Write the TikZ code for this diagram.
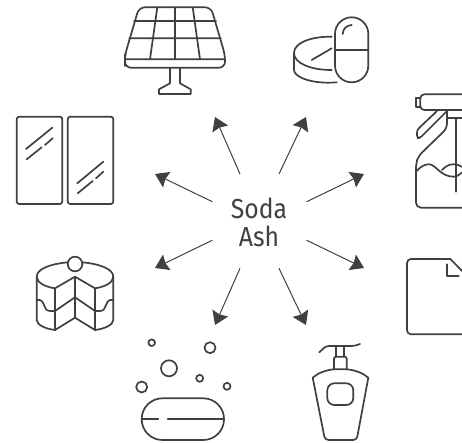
\documentclass[tikz,border=0pt]{standalone}
\usepackage{fontspec}
\setmainfont{Fira Sans}
\usetikzlibrary{arrows.meta}
\definecolor{ink}{HTML}{404040}
\tikzset{
 icon/.style={draw=ink,line width=1.7pt,line join=round,line cap=round},
 flow/.style={draw=ink,line width=1pt,-{Stealth[length=13pt,width=17pt,inset=1.5pt]}},
 title/.style={text=ink,font=\fontsize{27.5}{28.4}\selectfont,align=center,inner sep=0pt,xscale=.9}
}
\begin{document}
\begin{tikzpicture}[x=1pt,y=-1pt]
\useasboundingbox (0,0) rectangle (462,443);
\clip (0,0) rectangle (462,443);
% centre
\node[title] (soda) at (259,222.5) {Soda\\Ash};
\foreach \n/\sx/\sy/\tx/\ty in {a/240/174/215/117,b/279/174/306/117,c/306.7/201.7/364/174,d/306.7/240.3/364/268,e/212.3/201.7/155/174,f/212.3/240.3/155/268,g/240/268.3/215/325,h/279/268.3/306/325}{
  \coordinate (s\n) at (\sx,\sy);
  \coordinate (t\n) at (\tx,\ty);
  \draw[flow] (s\n) -- (t\n);
}
% solar panel
\draw[icon,rounded corners=6pt] (125,60) -- (125,55) -- (139,7.3) -- (211,7.3) -- (225,55) -- (225,67.7) -- (125,67.7) -- cycle;
\draw[icon] (125,59.3) -- (225,59.3) (134,21) -- (216,21) (129.3,38.3) -- (220.7,38.3)
 (157.3,7.3) -- (150,59.3) (175,7.3) -- (175,59.3) (192.7,7.3) -- (200,59.3);
\draw[icon] (170,67.7) -- (170,83.3) -- (159,89.3) -- (159,94) -- (190.7,94) -- (190.7,89.3) -- (180,83.3) -- (180,67.7);
% pills
\draw[icon] (335,50) -- (368.3,50);
\draw[icon,rounded corners=16.6pt] (335,17.3) rectangle (368.3,82.3);
\draw[icon] (342.7,34) .. controls (343,29) and (346,25.5) .. (351.7,25);
\draw[icon] (331.7,36.7) .. controls (310,36.5) and (294,43) .. (294,53) .. controls (294,63) and (310,70) .. (331.7,70);
\draw[icon] (294,53) -- (294,70) .. controls (294,77) and (312,84.5) .. (336.7,82.3);
\draw[icon] (311.7,60) -- (331.7,48.3);
% spray bottle
\draw[icon,rounded corners=4pt] (470,94.3) -- (420.3,94.3) -- (420.3,110) -- (470,110);
\draw[icon] (420.3,98.3) -- (416,98.3) -- (416,106.7) -- (420.3,106.7);
\draw[icon,rounded corners=2.5pt] (437,111) -- (417,130) -- (417,138) -- (420,138) -- (447,111);
\draw[icon,rounded corners=5pt] (447,111) -- (447,128.3) -- (418.7,155.7) -- (416,163) -- (416,207.7) -- (470,207.7);
\draw[icon] (447,118.3) -- (470,118.3) (456,118.3) -- (456,191.7);
\draw[icon] (416,171.7) .. controls (421,166) and (425,164.3) .. (429,164.3) .. controls (436,164.3) and (440,176.7) .. (453.7,176.7) .. controls (458,176.7) and (461,173) .. (465,170);
\draw[icon] (442,170) .. controls (446,166) and (449,164.3) .. (453.7,164.3) .. controls (458,164.3) and (461,166) .. (465,169);
% document
\draw[icon,rounded corners=4pt] (450.3,259) -- (407,259) -- (407,334.3) -- (470,334.3);
\draw[icon] (450.3,259) -- (470,279);
\draw[icon] (447,264.3) -- (447,275.7) -- (458.7,275.7);
% window
\draw[icon,rounded corners=2.5pt] (16.7,116.7) rectangle (62.3,204);
\draw[icon,rounded corners=2.5pt] (67.7,116.7) rectangle (113.3,204);
\draw[icon] (26,149) -- (52.3,127.7) (26.7,159.3) -- (41.7,147.3) (45,145) -- (52.7,138.3)
 (77.3,183.3) -- (103.3,161.7) (77.7,193.3) -- (92.7,181) (96,178.3) -- (103.3,171.7);
% cake
\draw[icon] (75,264) circle (7.3);
\draw[icon] (67.7,262.3) .. controls (50,264) and (36.7,269) .. (36.7,276.7) -- (36.7,320) .. controls (36.7,325) and (46,329) .. (55,330) -- (75,317.7) -- (95,330) .. controls (104,329) and (113.3,325) .. (113.3,320) -- (113.3,276.7) .. controls (113.3,269) and (100,264) .. (82.3,262.3);
\draw[icon] (36.7,276.7) .. controls (36.7,283) and (46,287) .. (55,288.3) -- (75,276.7) -- (95,288.3) .. controls (104,287) and (113.3,283) .. (113.3,276.7);
\draw[icon] (55,288.3) -- (55,330) (75,276.7) -- (75,317.7) (95,288.3) -- (95,330);
\draw[icon] (36.7,300) .. controls (46,298) and (42,311) .. (50,311) -- (55,311) -- (75,297.3) -- (95,311) -- (100,311) .. controls (108,311) and (104,298) .. (113.3,300);
% soap
\draw[icon] (151.7,342.7) circle (3.3) (210,347.7) circle (5.5) (169,368.3) circle (8) (199.7,378.3) circle (3.5) (227,386.3) circle (3.5) (141.7,387) circle (5.5);
\draw[icon,rounded corners=20.7pt] (141.7,398.3) rectangle (224,440);
\draw[icon] (141.7,419.3) -- (158.3,419.3) (167.7,419.3) -- (224,419.3);
% lotion
\draw[icon] (319.3,352.3) .. controls (323,349) and (325,346) .. (329,346) -- (351.7,346) .. controls (355,346) and (357,345) .. (360,344);
\draw[icon] (336,346) -- (336,356.7) (344.3,346) -- (344.3,356.7);
\draw[icon,rounded corners=2pt] (334,369.3) -- (334,356.7) -- (346.7,356.7) -- (346.7,369.3);
\draw[icon] (312.7,377.7) .. controls (318,373) and (326,370) .. (334,369.3) -- (346.7,369.3) .. controls (355,370) and (363,373) .. (368.3,377.7);
\draw[icon,rounded corners=3.5pt] (312.7,377.7) -- (325,440) -- (356.7,440) -- (368.3,377.7);
\draw[icon,rounded corners=7pt] (327.3,383.3) rectangle (353.3,405);
\end{tikzpicture}
\end{document}
